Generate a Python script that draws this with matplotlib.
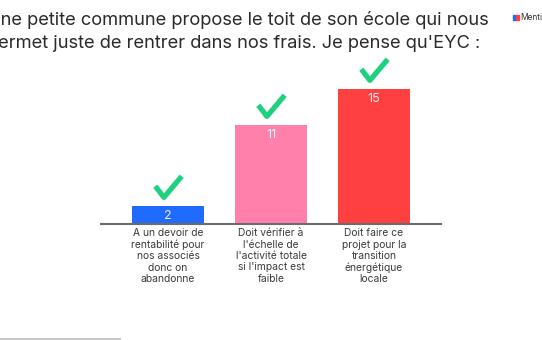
import matplotlib.pyplot as plt
import matplotlib.transforms as mtransforms
from matplotlib.path import Path
from matplotlib.lines import Line2D
from matplotlib.patches import Rectangle

plt.rcParams['font.family'] = ['Inter', 'DejaVu Sans']

title = "Une petite commune propose le toit de son école qui nous\npermet juste de rentrer dans nos frais. Je pense qu'EYC :"
categories = [
    "A un devoir de\nrentabilité pour\nnos associés\ndonc on\nabandonne",
    "Doit vérifier à\nl'échelle de\nl'activité totale\nsi l'impact est\nfaible",
    "Doit faire ce\nprojet pour la\ntransition\nénergétique\nlocale",
]
votes = [2, 11, 15]
colors = ['#1f6bff', '#ff80ab', '#ff4040']

W, H = 542, 340
fig = plt.figure(figsize=(W / 100, H / 100), dpi=100)
fig.patch.set_facecolor('white')

# axes placed in pixel terms
ax = fig.add_axes([101 / W, (H - 224) / H, 340 / W, 162 / H])
x = range(len(votes))
ax.bar(x, votes, width=0.7, color=colors, zorder=2)
ax.set_xlim(-0.65, 2.65)
ax.set_ylim(0, 18)
for s in ['top', 'right', 'left']:
    ax.spines[s].set_visible(False)
ax.spines['bottom'].set_color('#6b6b6b')
ax.spines['bottom'].set_linewidth(1.5)
ax.set_yticks([])
ax.set_xticks(list(x))
ax.set_xticklabels(categories, fontsize=7.4, color='#3a3a3a', linespacing=1.17)
ax.tick_params(axis='x', length=0, pad=3)

# value labels inside bars
for i, v in enumerate(votes):
    ax.annotate(str(v), (i, v), xytext=(0, -3), textcoords='offset points',
                ha='center', va='top', fontsize=9, color='white', alpha=0.9)

# check marks above bars
check = Path([(-1.0, 0.1), (-0.35, -0.75), (1.0, 0.85)],
             [Path.MOVETO, Path.LINETO, Path.LINETO])
shift = mtransforms.offset_copy(ax.transData, fig=fig, x=0, y=13.5, units='points')
ax.plot(list(x), votes, linestyle='none', marker=check, markersize=19,
        markerfacecolor='none', markeredgecolor='#1fd17f', markeredgewidth=3.8,
        transform=shift, clip_on=False)

# title
fig.text(-13 / W, 1 - 11 / H, title, ha='left', va='top', fontsize=13.2,
         color='#2a2a2a', linespacing=1.5)

# logo
fig.patches.append(Rectangle((513 / W, 1 - 20 / H), 3 / W, 5 / H,
                             transform=fig.transFigure, color='#1f6bff'))
fig.patches.append(Rectangle((516 / W, 1 - 20 / H), 3 / W, 5 / H,
                             transform=fig.transFigure, color='#ff4040'))
fig.text(520 / W, 1 - 17.5 / H, "Mentimeter", ha='left', va='center',
         fontsize=6, color='#333333')

# bottom left rule
fig.add_artist(Line2D([0, 120 / W], [1.5 / H, 1.5 / H], color='#c8c8c8', lw=1.5,
                      transform=fig.transFigure))

fig.savefig('out.png', dpi=100)
